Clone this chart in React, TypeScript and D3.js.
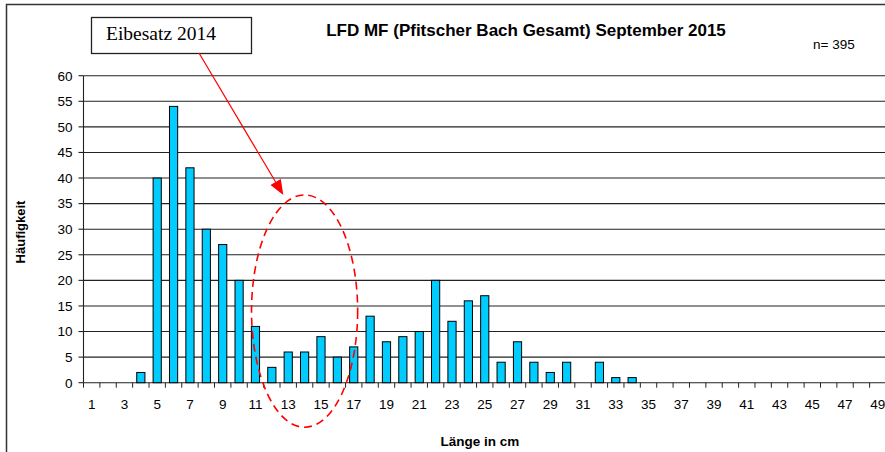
import React from "react";
import * as d3 from "d3";

// Längenklassen (cm) und Häufigkeiten
const lengths: number[] = d3.range(1, 50);
const counts: number[] = [
  0, 0, 0, 2, 40, 54, 42, 30, 27, 20, 11, 3, 6, 6, 9, 5, 7, 13, 8, 9, 10, 20,
  12, 16, 17, 4, 8, 4, 2, 4, 0, 4, 1, 1, 0, 0, 0, 0, 0, 0, 0, 0, 0, 0, 0, 0, 0,
  0, 0,
];
const yTicks: number[] = d3.range(0, 61, 5);
const xLabels: number[] = lengths.filter((d) => d % 2 === 1);

const title = "LFD MF (Pfitscher Bach Gesamt) September 2015";
const nLabel = "n= 395";
const yTitle = "Häufigkeit";
const xTitle = "Länge in cm";
const noteText = "Eibesatz 2014";

// Ellipse (Mitte in Datenkoordinaten) und Pfeilspitze
const ellipseCenter = { x: 14, y: 14 };
const ellipseRadius = { x: 3.24, y: 22.7 };
const arrowTip = { x: 12.7, y: 36.7 };

const W = 885;
const H = 452;
const left = 83.5;
const right = 886;
const top = 75.7;
const bottom = 382.7;

const FONT = "Arial, 'Liberation Sans', sans-serif";

export default function App() {
  const x = d3
    .scaleBand<number>()
    .domain(lengths)
    .range([left, right])
    .paddingInner(0.5)
    .paddingOuter(0.25);
  const step = x.step();
  const xc = (v: number) => x(Math.round(v))! + x.bandwidth() / 2 + (v - Math.round(v)) * step;

  const y = d3.scaleLinear().domain([0, 60]).range([bottom, top]);

  const boundaries = d3.range(0, lengths.length + 1).map((i) => left + i * step);

  const tipX = xc(arrowTip.x);
  const tipY = y(arrowTip.y);
  const startX = 199;
  const startY = 53;
  const ang = Math.atan2(tipY - startY, tipX - startX);
  const headLen = 15;
  const headW = 6;
  const bx = tipX - headLen * Math.cos(ang);
  const by = tipY - headLen * Math.sin(ang);
  const head = [
    [tipX, tipY],
    [bx + headW * Math.sin(ang), by - headW * Math.cos(ang)],
    [bx - headW * Math.sin(ang), by + headW * Math.cos(ang)],
  ]
    .map((p) => p.join(","))
    .join(" ");

  return (
    <svg
      width={W}
      height={H}
      style={{ position: "absolute", left: 0, top: 0, background: "#fff" }}
      fontFamily={FONT}
    >
      {/* Rahmen */}
      <rect x={6.5} y={4.5} width={1000} height={1000} fill="#fff" stroke="#333" strokeWidth={1.5} />

      {/* Gitterlinien */}
      {yTicks.map((t) => (
        <g key={t}>
          <line x1={left} x2={right} y1={y(t)} y2={y(t)} stroke="#222" strokeWidth={1.1} />
          <line x1={left - 5} x2={left} y1={y(t)} y2={y(t)} stroke="#222" strokeWidth={1.1} />
          <text x={72.5} y={y(t)} dy="0.36em" textAnchor="end" fontSize={13.5} fill="#000">
            {t}
          </text>
        </g>
      ))}
      <line x1={left} x2={left} y1={top} y2={bottom} stroke="#222" strokeWidth={1.1} />

      {/* Balken */}
      {lengths.map((l, i) =>
        counts[i] > 0 ? (
          <rect
            key={l}
            x={x(l)}
            y={y(counts[i])}
            width={x.bandwidth()}
            height={bottom - y(counts[i])}
            fill="#00CCFF"
            stroke="#000"
            strokeWidth={1}
          />
        ) : null
      )}

      {/* x-Achse */}
      {boundaries.map((b, i) => (
        <line key={i} x1={b} x2={b} y1={bottom} y2={bottom + 5} stroke="#222" strokeWidth={1} />
      ))}
      {xLabels.map((l) => (
        <text key={l} x={x(l)! + x.bandwidth() / 2} y={bottom + 26.5} textAnchor="middle" fontSize={13.5} fill="#000">
          {l}
        </text>
      ))}

      {/* Titel */}
      <text x={526} y={36} textAnchor="middle" fontSize={17} fontWeight="bold">
        {title}
      </text>
      <text x={813} y={49} fontSize={13.5}>
        {nLabel}
      </text>
      <text
        transform={`translate(25,232) rotate(-90)`}
        textAnchor="middle"
        fontSize={13}
        fontWeight="bold"
      >
        {yTitle}
      </text>
      <text x={480} y={445.5} textAnchor="middle" fontSize={13.5} fontWeight="bold">
        {xTitle}
      </text>

      {/* Annotation */}
      <rect x={91.5} y={17.5} width={160} height={36} fill="#fff" stroke="#222" strokeWidth={1.3} />
      <text x={106} y={40} fontSize={19.5} fontFamily="'Times New Roman', 'Liberation Serif', serif">
        {noteText}
      </text>
      <line x1={startX} y1={startY} x2={bx} y2={by} stroke="#ff0000" strokeWidth={1.2} />
      <polygon points={head} fill="#ff0000" />
      <ellipse
        cx={xc(ellipseCenter.x)}
        cy={y(ellipseCenter.y)}
        rx={ellipseRadius.x * step}
        ry={ellipseRadius.y * (bottom - top) / 60}
        fill="none"
        stroke="#ff0000"
        strokeWidth={1.6}
        strokeDasharray="8,5"
      />
    </svg>
  );
}
